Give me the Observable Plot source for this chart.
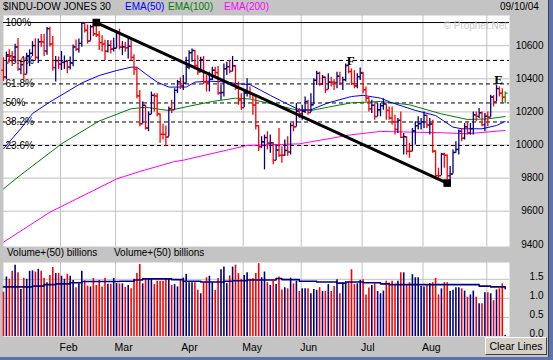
<!DOCTYPE html>
<html><head><meta charset="utf-8">
<script src="https://cdn.jsdelivr.net/npm/d3@7"></script>
<script src="https://cdn.jsdelivr.net/npm/@observablehq/plot@0.6"></script>
<style>
html,body{margin:0;padding:0;background:#c4c4c4;}
#wrap{position:relative;width:553px;height:360px;background:#c4c4c4;overflow:hidden;font-family:"Liberation Sans",Arial,sans-serif;color:#000;}
.lbl{position:absolute;font-size:10px;line-height:12px;white-space:nowrap;}
.chart{position:absolute;left:0;}
#btn{position:absolute;left:485px;top:337px;width:60px;height:16px;background:#d4d0c8;border-top:1px solid #fff;border-left:1px solid #fff;border-right:1px solid #404040;border-bottom:1px solid #404040;font-size:10.5px;line-height:16px;text-align:center;}
#rb{position:absolute;left:548px;top:0;width:5px;height:360px;background:#5a72b0;border-left:1px solid #404040;}
#bb{position:absolute;left:0;top:357px;width:553px;height:3px;background:#5a72b0;}
</style></head>
<body><div id="wrap">
<div class="lbl" style="left:3px;top:1px">$INDU-DOW JONES 30</div>
<div class="lbl" style="left:125px;top:1px;color:#0000ff">EMA(50)</div>
<div class="lbl" style="left:168px;top:1px;color:#008000">EMA(100)</div>
<div class="lbl" style="left:224px;top:1px;color:#ff00ff">EMA(200)</div>
<div class="lbl" style="left:500px;top:1px">09/10/04</div>
<div id="price" class="chart" style="top:0"></div>
<div id="vol" class="chart" style="top:247px"></div>
<div class="lbl" style="left:7px;top:247px">Volume+(50) billions</div>
<div class="lbl" style="left:114px;top:247px">Volume+(50) billions</div>
<div class="lbl" style="right:46px;top:20px;color:#c8c8c8">© Prophet.Net</div>
<div id="btn">Clear Lines</div>
<div id="rb"></div><div id="bb"></div>
</div>
<script>
// ---------- data ----------
const startDate = "2004-01-02", endDate = "2004-09-10";
const holidays = ["2004-01-19","2004-02-16","2004-04-09","2004-05-31","2004-06-11","2004-07-05","2004-09-06"];
const prevClose = 10454;
const opens = [
10452,10411,10544,10539,10529,10592,10459,10485,10427,10538,10554,10601,10529,10624,10623,10568,10703,10610,10468,10510,
10488,10499,10505,10471,10496,10593,10579,10614,10735,10694,10628,10715,10672,10665,10619,10610,10566,10602,10580,
10584,10678,10591,10593,10588,10596,10529,10457,10297,10128,10240,10103,10185,10300,10296,10187,10065,10064,10048,10219,10213,10330,10382,
10358,10373,10471,10558,10571,10480,10442,10516,10381,10378,10397,10452,10438,10315,10317,10461,10473,10445,10478,10343,10272,
10226,10314,10317,10311,10241,10117,9990,10019,10045,10011,10013,9907,9969,9938,9938,9967,9958,10118,10110,10205,
10188,10203,10263,10196,10243,10391,10433,10368,10410,10335,10380,10380,10378,10416,10372,10395,10480,10444,10371,10357,10413,
10435,10334,10283,10219,10240,10172,10213,10238,10248,10209,10163,10140,10094,10149,10046,10050,9962,9962,10085,10117,10129,
10140,10179,10120,10127,9963,9815,9815,9945,9938,9815,9825,9955,9973,10083,10041,10110,10073,10099,10182,10173,10195,10123,
10174,10168,10290,10260,10341,10313,10289];
const highs = [
10527,10562,10576,10565,10609,10643,10511,10525,10555,10575,10625,10642,10641,10667,10669,10710,10712,10655,10535,10532,
10565,10538,10510,10532,10604,10634,10641,10738,10736,10725,10723,10730,10745,10686,10660,10633,10632,10630,10645,
10690,10700,10625,10620,10640,10630,10545,10470,10330,10260,10240,10200,10320,10310,10310,10187,10125,10115,10230,10270,10340,10390,10405,
10420,10530,10570,10580,10571,10540,10530,10535,10420,10440,10470,10470,10475,10360,10490,10500,10510,10535,10480,10380,10310,
10330,10400,10350,10311,10300,10117,10050,10060,10080,10060,10013,10000,10100,9990,10030,10050,10130,10140,10250,10220,
10240,10290,10270,10310,10400,10445,10440,10420,10410,10430,10410,10395,10440,10440,10410,10490,10495,10460,10450,10430,10465,
10440,10350,10290,10270,10245,10250,10250,10280,10248,10230,10230,10180,10160,10200,10070,10050,10010,10100,10140,10170,10160,
10200,10180,10160,10150,9965,9860,9950,9950,9940,9870,9970,10020,10090,10100,10130,10140,10130,10200,10200,10220,10200,10190,
10200,10300,10300,10360,10350,10340,10320];
const lows = [
10384,10393,10496,10474,10499,10446,10425,10395,10427,10473,10535,10507,10493,10590,10535,10543,10592,10445,10380,10455,
10450,10457,10431,10453,10473,10565,10556,10590,10677,10610,10628,10655,10650,10571,10562,10510,10556,10550,10562,
10584,10575,10540,10560,10520,10510,10420,10280,10110,10128,10090,10080,10185,10200,10170,10010,10030,9990,10048,10190,10213,10310,10335,
10330,10373,10455,10500,10460,10420,10442,10365,10320,10320,10390,10410,10300,10270,10290,10420,10430,10445,10330,10240,10210,
10226,10290,10280,10180,10090,9960,9980,9850,9970,9950,9880,9907,9925,9890,9930,9930,9940,10080,10110,10160,
10150,10190,10180,10196,10243,10360,10355,10360,10310,10335,10350,10330,10340,10360,10330,10380,10430,10360,10340,10340,10390,
10310,10260,10200,10190,10150,10172,10170,10210,10150,10150,10120,10060,10070,10040,9940,9940,9920,9962,10000,10090,10090,
10100,10100,10060,9950,9790,9790,9815,9860,9790,9785,9825,9950,9940,10020,10030,10060,10060,10060,10140,10160,10110,10080,
10110,10168,10230,10260,10290,10250,10250];
const closes = [
10410,10544,10539,10529,10592,10459,10485,10427,10538,10554,10601,10529,10624,10623,10568,10703,10610,10468,10510,10488,
10499,10505,10471,10496,10593,10579,10614,10738,10694,10628,10715,10672,10665,10619,10610,10566,10602,10580,10584,
10678,10591,10593,10588,10596,10529,10457,10297,10128,10240,10103,10185,10300,10296,10187,10065,10064,10048,10219,10213,10330,10382,10358,
10373,10471,10558,10571,10480,10442,10516,10381,10378,10397,10452,10438,10315,10317,10461,10473,10445,10478,10343,10272,10226,
10314,10317,10311,10241,10117,9990,10019,10045,10011,10013,9907,9969,9937.7,9937.6,9967,9958,10118,10110,10205,10188,
10203,10263,10196,10243,10391,10433,10368,10410,10335,10380.4,10379.6,10377.5,10416,10372,10395,10480,10444,10371,10357,10413,10435,
10334,10283,10219,10240,10172,10213,10238,10248,10209,10163,10140,10094,10149,10046,10050,9962.2,9961.9,10085,10117,10129,10140,
10179,10120,10127,9963,9815.3,9814.6,9945,9938,9814.7,9825,9955,9973,10083,10041,10110,10073,10099,10182,10173,10195,10123,10174,
10168,10290,10260,10341,10313,10289,10313];
const volumes = [
1.16,1.56,1.50,1.71,1.87,1.67,1.23,1.53,1.50,1.71,
1.72,1.69,1.76,1.71,1.53,1.41,1.60,1.81,1.65,1.65,
1.58,1.50,1.63,1.58,1.47,1.28,1.38,1.71,1.46,1.32,
1.30,1.52,1.34,1.47,1.30,1.52,1.37,1.37,1.52,1.39,
1.38,1.38,1.29,1.34,1.25,1.50,1.65,1.89,1.38,1.50,
1.50,1.50,1.36,1.45,1.45,1.45,1.50,1.50,1.34,1.36,
1.30,1.47,1.53,1.63,1.41,1.41,1.41,1.21,1.12,1.41,
1.54,1.58,1.41,1.21,1.52,1.75,1.82,1.38,1.59,1.82,
1.87,1.65,1.50,1.60,1.67,1.50,1.52,1.65,1.91,1.54,
1.69,1.41,1.34,1.45,1.36,1.56,1.22,1.28,1.25,1.53,
1.38,1.45,1.18,1.25,1.25,1.25,1.12,1.23,1.21,1.28,
1.18,1.18,1.36,1.18,1.31,1.49,1.12,1.40,1.43,1.43,
1.75,1.36,1.38,1.47,1.49,1.09,1.27,1.34,1.38,1.18,
1.12,1.19,1.45,1.40,1.45,1.37,1.45,1.67,1.67,1.34,
1.41,1.62,1.54,1.54,1.31,1.30,1.34,1.38,1.41,1.52,
1.09,1.25,1.41,1.41,1.18,1.21,1.28,1.28,1.25,1.19,
1.03,1.09,1.19,1.03,0.86,0.86,1.15,1.15,1.12,0.94,
1.22,1.25,1.38,0.03];
const ema50Dates = ["2004-01-02","2004-01-12","2004-01-16","2004-01-27","2004-02-11","2004-02-20","2004-03-01","2004-03-08","2004-03-10","2004-03-15","2004-03-19","2004-03-25","2004-04-02","2004-04-07","2004-04-15","2004-04-23","2004-04-29","2004-05-05","2004-05-14","2004-05-21","2004-05-28","2004-06-04","2004-06-15","2004-06-25","2004-07-01","2004-07-12","2004-07-16","2004-07-28","2004-08-06","2004-08-16","2004-08-19","2004-08-30","2004-09-07","2004-09-10"];
const ema50Values = [9977,10100,10190,10260,10375,10420,10450,10470,10470,10430,10380,10350,10350,10380,10386,10380,10370,10365,10300,10255,10213,10213,10255,10293,10300,10283,10255,10209,10178,10108,10098,10098,10118,10142];
const ema100Dates = ["2004-01-02","2004-01-12","2004-02-02","2004-02-20","2004-03-08","2004-03-15","2004-03-25","2004-04-06","2004-04-16","2004-04-28","2004-05-05","2004-05-14","2004-05-28","2004-06-04","2004-06-15","2004-06-25","2004-07-12","2004-07-26","2004-08-10","2004-08-23","2004-09-01","2004-09-10"];
const ema100Values = [9735,9820,10007,10145,10219,10228,10208,10238,10263,10283,10278,10250,10208,10208,10229,10255,10263,10243,10188,10154,10158,10172];
const ema200Dates = ["2004-01-02","2004-01-27","2004-03-01","2004-03-11","2004-03-29","2004-04-01","2004-04-27","2004-05-04","2004-05-28","2004-06-25","2004-07-12","2004-08-10","2004-08-23","2004-09-10"];
const ema200Values = [9413,9594,9795,9840,9900,9908,9977,9997,10007,10062,10082,10074,10068,10088];
const volMaDates = ["2004-01-02","2004-01-16","2004-01-23","2004-01-29","2004-02-05","2004-02-11","2004-03-02","2004-03-09","2004-03-12","2004-03-26","2004-04-01","2004-04-12","2004-04-22","2004-04-27","2004-05-04","2004-05-18","2004-05-20","2004-05-28","2004-06-08","2004-06-18","2004-06-23","2004-07-01","2004-07-12","2004-07-15","2004-08-27","2004-09-02","2004-09-10"];
const volMaValues = [1.30,1.32,1.36,1.38,1.41,1.44,1.45,1.48,1.51,1.49,1.45,1.43,1.45,1.46,1.48,1.52,1.49,1.45,1.43,1.40,1.43,1.41,1.38,1.36,1.32,1.30,1.25];
const fibLabels = ["100%","76.4%","61.8%","50%","38.2%","23.6%"];
const fibValues = [10740,10511,10369,10254,10139,9997];
const trendDates = ["2004-02-19","2004-08-12"];
const trendValues = [10740,9770];
const noteLabels = ["F","E"];
const noteDates = ["2004-06-24","2004-09-07"];
const noteValues = [10510,10395];
const priceTicks = [9400,9600,9800,10000,10200,10400,10600];
const priceGrid = [9600,9800,10000,10200,10400,10600];
const volTicks = [0,0.5,1.0,1.5];
const volGrid = [0.5,1.0,1.5];
const monthNames = ["Feb","Mar","Apr","May","Jun","Jul","Aug","Sep"];
const labeledMonths = ["Feb","Mar","Apr","May","Jun","Jul","Aug"];

// ---------- trading days ----------
const days = [];
for (let t = Date.parse(startDate+"T00:00:00Z"); t <= Date.parse(endDate+"T00:00:00Z"); t += 864e5) {
  const d = new Date(t), wd = d.getUTCDay(), s = d.toISOString().slice(0,10);
  if (wd > 0 && wd < 6 && !holidays.includes(s)) days.push(s);
}
if (days.length !== closes.length || opens.length !== closes.length || highs.length !== closes.length || lows.length !== closes.length || volumes.length !== closes.length)
  throw new Error("length mismatch " + [days.length, opens.length, highs.length, lows.length, closes.length, volumes.length]);
const idx = new Map(days.map((d,i)=>[d,i]));
const last = closes.length - 1;
const NAVY = "#000080", RED = "#ff0000";
const bars = closes.map((c,i)=>({i, o: opens[i], h: highs[i], l: lows[i], c,
  color: i === last ? "#00a000" : (c < (i ? closes[i-1] : prevClose) ? RED : NAVY)}));
const vols = volumes.map((v,i)=>({i, v, color: i === last ? NAVY : bars[i].color}));
const series = (ds, vs) => ds.map((d,k)=>({i: idx.get(d), v: vs[k]}));
const ema50 = series(ema50Dates, ema50Values);
const ema100 = series(ema100Dates, ema100Values);
const ema200 = series(ema200Dates, ema200Values);
const volMa = series(volMaDates, volMaValues);
const trend = series(trendDates, trendValues);
const notes = noteDates.map((d,k)=>({i: idx.get(d), v: noteValues[k], t: noteLabels[k]}));
const fibs = fibLabels.map((t,k)=>({t, v: fibValues[k]}));
const allMonths = ["Jan","Feb","Mar","Apr","May","Jun","Jul","Aug","Sep"];
const monthStarts = monthNames.map(m => {
  const mm = String(allMonths.indexOf(m) + 1).padStart(2,"0");
  const d = days.find(s => s.slice(5,7) === mm);
  return {m, i: idx.get(d)};
});
const GRID = "#c0c0c0";
const xDom = [0, 174.48];
const font = "Liberation Sans, Arial, sans-serif";

const price = Plot.plot({
  width: 553, height: 250,
  marginLeft: 3, marginRight: 44, marginTop: 15, marginBottom: 4,
  style: {background: "transparent", fontFamily: font, fontSize: "10px", color: "black", overflow: "visible"},
  x: {domain: xDom, axis: null},
  y: {domain: [9386.7, 10782.5], axis: null, label: null},
  color: {type: "identity"},
  marks: [
    Plot.frame({fill: "white", stroke: "none"}),
    Plot.ruleX(monthStarts, {x: d => d.i - 0.35, stroke: GRID}),
    Plot.ruleY(priceGrid, {stroke: GRID}),
    Plot.ruleY(fibs.filter(d => d.t === "100%"), {y: "v", stroke: "black", strokeWidth: 1}),
    Plot.ruleY(fibs.filter(d => d.t !== "100%"), {y: "v", stroke: "black", strokeWidth: 1, strokeDasharray: "4,3"}),
    Plot.text(fibs, {x: 0, y: "v", text: "t", textAnchor: "start", dx: 2, fontSize: 10, fill: "black"}),
    Plot.line(ema200, {x: "i", y: "v", stroke: "#ff00ff", strokeWidth: 1}),
    Plot.line(ema100, {x: "i", y: "v", stroke: "#008000", strokeWidth: 1}),
    Plot.line(ema50, {x: "i", y: "v", stroke: "#0000ff", strokeWidth: 1}),
    Plot.ruleX(bars, {x: "i", y1: "l", y2: "h", stroke: "color", strokeWidth: 1.3}),
    Plot.link(bars, {x1: d => d.i - 0.8, x2: "i", y1: "o", y2: "o", stroke: "color", strokeWidth: 1.3}),
    Plot.link(bars, {x1: "i", x2: d => d.i + 0.8, y1: "c", y2: "c", stroke: "color", strokeWidth: 1.3}),
    Plot.line(trend, {x: "i", y: "v", stroke: "black", strokeWidth: 3}),
    Plot.dot(trend, {x: "i", y: "v", symbol: "square", r: 4.3, fill: "black", stroke: "none"}),
    Plot.text(notes, {x: "i", y: "v", text: "t", dx: 2, fontFamily: "Liberation Serif, Times New Roman, serif", fontWeight: "bold", fontSize: 13, fill: "black"}),
    Plot.axisY(priceTicks, {anchor: "right", label: null, tickSize: 0, tickPadding: 34, textAnchor: "end", tickFormat: d => String(d), fontSize: 10, fill: "black"})
  ]
});
document.getElementById("price").appendChild(price);

const vol = Plot.plot({
  width: 553, height: 113,
  marginLeft: 3, marginRight: 44, marginTop: 15, marginBottom: 24,
  style: {background: "transparent", fontFamily: font, fontSize: "10px", color: "black", overflow: "visible"},
  x: {domain: xDom, axis: null},
  y: {domain: [0, 1.94], axis: null, label: null},
  color: {type: "identity"},
  marks: [
    Plot.frame({fill: "white", stroke: "none"}),
    Plot.ruleX(monthStarts, {x: d => d.i - 0.35, stroke: GRID}),
    Plot.ruleY(volGrid, {stroke: GRID}),
    Plot.ruleX(vols, {x: "i", y1: 0, y2: "v", stroke: "color", strokeWidth: 1.6}),
    Plot.line(volMa, {x: "i", y: "v", curve: "step-after", stroke: NAVY, strokeWidth: 1.6}),
    Plot.axisY(volTicks, {anchor: "right", label: null, tickSize: 0, tickPadding: 34, textAnchor: "end", dy: -2.5, tickFormat: d3.format(".1f"), fontSize: 10, fill: "black"}),
    Plot.text(monthStarts.filter(d => labeledMonths.includes(d.m)), {x: d => d.i - 0.35, y: 0, text: "m", dy: 11, dx: -1, textAnchor: "start", fontSize: 10.5, fill: "black"})
  ]
});
document.getElementById("vol").appendChild(vol);
</script>
</body></html>
